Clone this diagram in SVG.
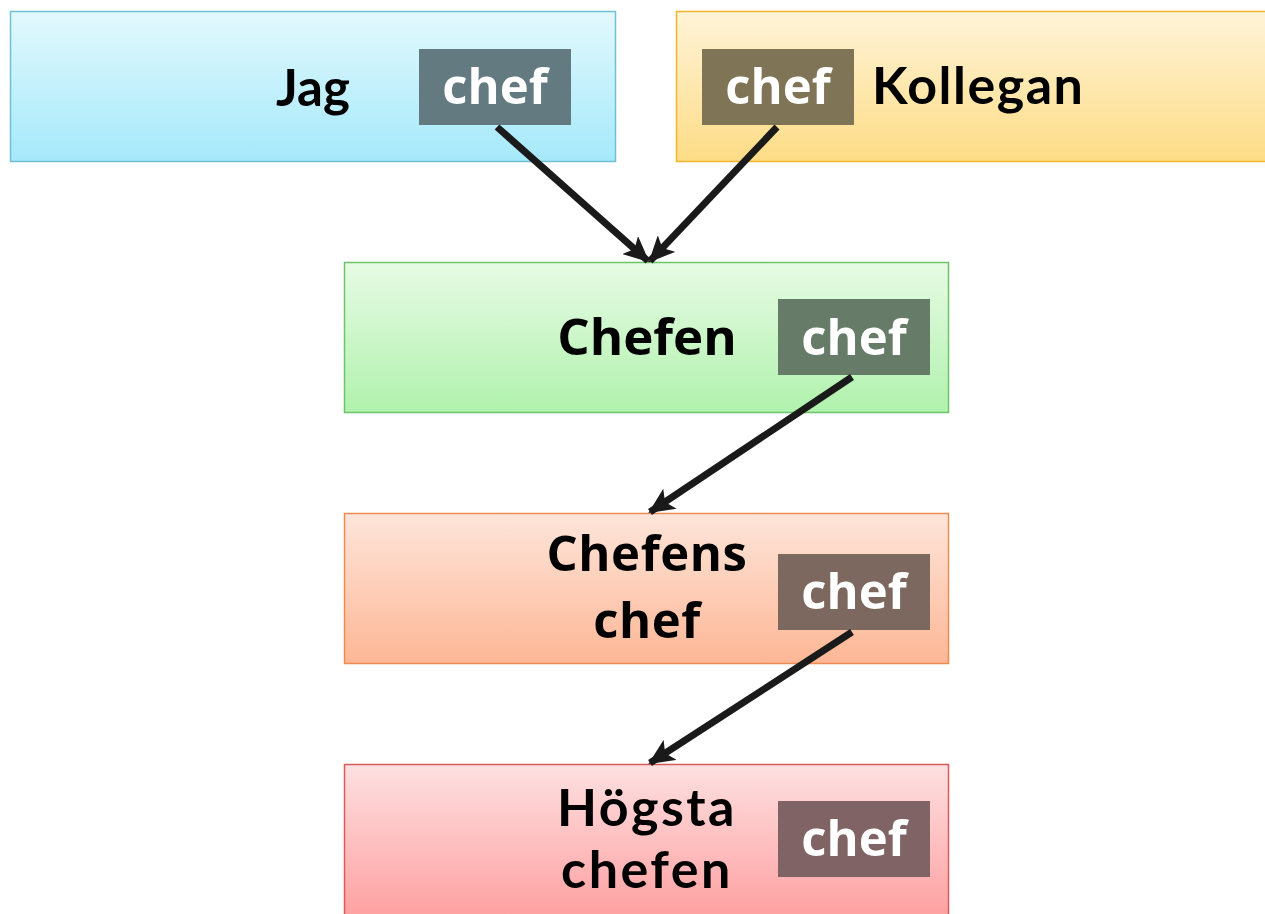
<svg xmlns="http://www.w3.org/2000/svg" width="1265" height="914" viewBox="0 0 1265 914">
  <defs>
    <linearGradient id="gBlue" x1="0" y1="0" x2="0" y2="1">
      <stop offset="0" stop-color="#e2f9fd"/>
      <stop offset="1" stop-color="#a5e9fb"/>
    </linearGradient>
    <linearGradient id="gYellow" x1="0" y1="0" x2="0" y2="1">
      <stop offset="0" stop-color="#fff4d8"/>
      <stop offset="1" stop-color="#fddc86"/>
    </linearGradient>
    <linearGradient id="gGreen" x1="0" y1="0" x2="0" y2="1">
      <stop offset="0" stop-color="#e7fbe4"/>
      <stop offset="1" stop-color="#b0f2ad"/>
    </linearGradient>
    <linearGradient id="gOrange" x1="0" y1="0" x2="0" y2="1">
      <stop offset="0" stop-color="#fee5da"/>
      <stop offset="1" stop-color="#fdb795"/>
    </linearGradient>
    <linearGradient id="gRed" x1="0" y1="0" x2="0" y2="1">
      <stop offset="0" stop-color="#fee0e1"/>
      <stop offset="1" stop-color="#fe9d9d"/>
    </linearGradient>
    <marker id="arrow" markerUnits="userSpaceOnUse" markerWidth="26" markerHeight="24" refX="24" refY="12" orient="auto">
      <path d="M0,0 L26,12 L0,24 L6,12 Z" fill="#1a1a1a"/>
    </marker>
  </defs>
  <style>
    .box { stroke-width: 1.5; }
    .badge-text { font-family: "Open Sans", "DejaVu Sans", sans-serif; font-weight: 700; font-size: 49px; fill: #ffffff; text-anchor: middle; }
    .gill { font-family: "Lato", "Liberation Sans", sans-serif; font-weight: 700; font-size: 52px; fill: #000000; text-anchor: middle; }
    .segoe { font-family: "Open Sans", "DejaVu Sans", sans-serif; font-weight: 700; font-size: 51px; fill: #000000; text-anchor: middle; }
    .conn { stroke: #1a1a1a; stroke-width: 7; fill: none; marker-end: url(#arrow); }
  </style>

  <g id="jag">
    <rect class="box" x="10.5" y="11.5" width="605" height="150" fill="url(#gBlue)" stroke="#6fc0d3"/>
    <text class="gill" x="313" y="106" style="font-size:51px">Jag</text>
    <rect x="419" y="49" width="152" height="76" fill="#637a80"/>
    <text class="badge-text" x="495" y="104">chef</text>
  </g>

  <g id="kollegan">
    <rect class="box" x="676.5" y="11.5" width="600" height="150" fill="url(#gYellow)" stroke="#f1b62b"/>
    <rect x="702" y="49" width="152" height="76" fill="#7f7456"/>
    <text class="badge-text" x="778" y="104">chef</text>
    <text class="gill" x="872" y="104" style="text-anchor:start" letter-spacing="1.5">Kollegan</text>
  </g>

  <g id="chefen">
    <rect class="box" x="344.5" y="262.5" width="604" height="150" fill="url(#gGreen)" stroke="#6fc26c"/>
    <text class="segoe" x="647" y="355">Chefen</text>
    <rect x="778" y="299" width="152" height="76" fill="#667b68"/>
    <text class="badge-text" x="854" y="355">chef</text>
  </g>

  <g id="chefens-chef">
    <rect class="box" x="344.5" y="513.5" width="604" height="150" fill="url(#gOrange)" stroke="#ef8a50"/>
    <text class="segoe" style="font-size:49px" letter-spacing="0.6"><tspan x="647" y="571">Chefens</tspan><tspan x="647" y="638">chef</tspan></text>
    <rect x="778" y="554" width="152" height="76" fill="#7d6860"/>
    <text class="badge-text" x="854" y="609">chef</text>
  </g>

  <g id="hogsta-chefen">
    <rect class="box" x="344.5" y="764.5" width="604" height="160" fill="url(#gRed)" stroke="#d95a5a"/>
    <text class="gill" letter-spacing="2.5"><tspan x="647" y="826">Högsta</tspan><tspan x="647" y="888">chefen</tspan></text>
    <rect x="778" y="801" width="152" height="76" fill="#806465"/>
    <text class="badge-text" x="854" y="856">chef</text>
  </g>

  <g id="connectors">
    <line class="conn" x1="497" y1="127" x2="648" y2="261"/>
    <line class="conn" x1="777" y1="127" x2="650" y2="261"/>
    <line class="conn" x1="852" y1="377" x2="650" y2="512"/>
    <line class="conn" x1="852" y1="632" x2="650" y2="763"/>
  </g>
</svg>
